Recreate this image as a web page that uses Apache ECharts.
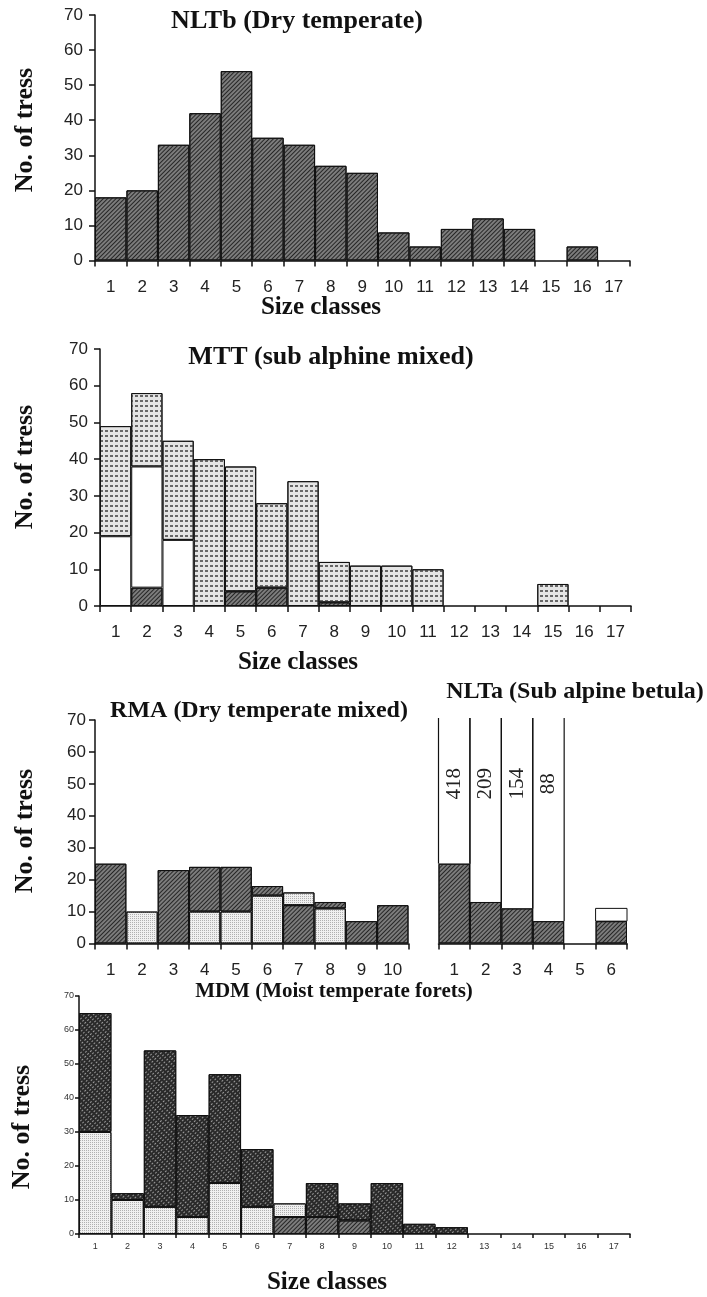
<!DOCTYPE html>
<html><head><meta charset="utf-8">
<script src="https://cdn.jsdelivr.net/npm/echarts@6/dist/echarts.min.js"></script>
<style>html,body{margin:0;padding:0;background:#fff}#c{width:707px;height:1297px}</style>
</head><body><div id="c"></div>
<script>
// ---------- data ----------
const classes17 = ['1','2','3','4','5','6','7','8','9','10','11','12','13','14','15','16','17'];
const classes10 = ['1','2','3','4','5','6','7','8','9','10'];
const classes6  = ['1','2','3','4','5','6'];
const yMin = 0, yMax = 70, yStep = 10;

// NLTb (Dry temperate)
const nltbTrees = [18,20,33,42,54,35,33,27,25,8,4,9,12,9,0,4,0];

// MTT (sub alphine mixed) – stacked segments, bottom to top
const mttHatched = [0,5,0,0,4,5,0,1,0,0,0,0,0,0,0,0,0];
const mttWhite   = [19,33,18,0,0,0,0,0,0,0,0,0,0,0,0,0,0];
const mttDotted  = [30,20,27,40,34,23,34,11,11,11,10,0,0,0,6,0,0];

// RMA (Dry temperate mixed) – stacked segments, bottom to top
const rmaDarkLower = [25,0,23,0,0,0,12,0,7,12];
const rmaLight     = [0,10,0,10,10,15,4,11,0,0];
const rmaDarkUpper = [0,0,0,14,14,3,0,2,0,0];

// NLTa (Sub alpine betula)
const nltaHatched = [25,13,11,7,0,7];
const nltaTotal   = [418,209,154,88,0,11];

// MDM (Moist temperate forets) – stacked segments, bottom to top
const mdmHatched = [0,0,0,0,0,0,5,5,4,0,0,0,0,0,0,0,0];
const mdmLight   = [30,10,8,5,15,8,4,0,0,0,0,0,0,0,0,0,0];
const mdmCross   = [35,2,46,30,32,17,0,10,5,15,3,2,0,0,0,0,0];

const titles = ['NLTb (Dry temperate)','MTT (sub alphine mixed)','RMA (Dry temperate mixed)','NLTa (Sub alpine betula)','MDM (Moist temperate forets)'];
const yName = 'No. of tress';
const xName = 'Size classes';

// ---------- styles ----------
const SERIF = '"Liberation Serif","Times New Roman",serif';
const SANS = '"Liberation Sans",Arial,sans-serif';
const INK = '#111';
const hatch = {
  color: '#7c7c7c', borderColor: INK, borderWidth: 1,
  decal: { symbol: 'rect', symbolSize: 1, dashArrayX: [1, 0], dashArrayY: [1, 2], rotation: -Math.PI / 4, color: '#262626' }
};
const mttDots = {
  color: '#e4e4e4', borderColor: INK, borderWidth: 1,
  decal: { symbol: 'rect', symbolSize: 1, dashArrayX: [[3, 2]], dashArrayY: [1.5, 2.5], color: '#666' }
};
const lightDots = {
  color: '#f0f0f0', borderColor: INK, borderWidth: 1,
  decal: { symbol: 'rect', symbolSize: 1, dashArrayX: [1, 1], dashArrayY: [1, 1], color: '#b0b0b0' }
};
const cross = {
  color: '#2a2a2a', borderColor: INK, borderWidth: 1,
  decal: { symbol: 'rect', symbolSize: 1, dashArrayX: [[2, 2]], dashArrayY: [1, 2], rotation: -Math.PI / 4, color: '#9a9a9a' }
};
const white = { color: '#ffffff', borderColor: INK, borderWidth: 1 };

const nz = arr => arr.map(v => (v === 0 ? '-' : v));

const grids = [
  { left: 95,    top: 15,  width: 534.5, height: 245.5 },
  { left: 100,   top: 349, width: 531,   height: 257 },
  { left: 95,    top: 720, width: 313.5, height: 223.5 },
  { left: 438.5, top: 720, width: 188.5, height: 223.5 },
  { left: 79,    top: 996, width: 551,   height: 238 }
].map(g => Object.assign({ outerBoundsMode: 'none', containLabel: false }, g));

function xAx(idx, data, small) {
  return {
    type: 'category', gridIndex: idx, data: data, boundaryGap: true,
    axisLine: { show: true, lineStyle: { color: INK, width: 1.5 } },
    axisTick: { show: true, length: small ? 4 : 6, lineStyle: { color: INK, width: 1.5 } },
    axisLabel: { fontFamily: SANS, fontSize: small ? 9 : 17, color: small ? '#333' : '#222', margin: small ? 8 : 18, interval: 0 },
    splitLine: { show: false }
  };
}
function yAx(idx, opts) {
  opts = opts || {};
  return {
    type: 'value', gridIndex: idx, min: yMin, max: yMax, interval: yStep,
    axisLine: { show: !opts.hide, lineStyle: { color: INK, width: 1.5 } },
    axisTick: { show: !opts.hide, length: opts.small ? 4 : 6, lineStyle: { color: INK, width: 1.5 } },
    axisLabel: { show: !opts.hide, fontFamily: SANS, fontSize: opts.small ? 9 : 17, color: opts.small ? '#333' : '#222', margin: opts.small ? 5 : (opts.margin || 12) },
    splitLine: { show: false }
  };
}
function bar(idx, data, style, stack) {
  return { type: 'bar', xAxisIndex: idx, yAxisIndex: idx, data: nz(data), stack: stack, barCategoryGap: '0%', itemStyle: style, emphasis: { disabled: true }, animation: false };
}

const LABEL_AT = 50; // value level where the clipped totals are written
const nltaOpen = {
  type: 'custom', xAxisIndex: 3, yAxisIndex: 3, animation: false,
  data: nltaTotal.map((t, i) => [i, nltaHatched[i], t]),
  encode: { x: 0, y: [1, 2] },
  renderItem: function (params, api) {
    const i = api.value(0), lo = api.value(1), hi = api.value(2);
    if (!(hi > lo)) return;
    const top = Math.min(hi, yMax);
    const pLo = api.coord([i, lo]), pTop = api.coord([i, top]);
    const w = api.size([1, 0])[0];
    const x0 = pLo[0] - w / 2, x1 = pLo[0] + w / 2;
    const children = [];
    if (hi <= yMax) {
      children.push({ type: 'rect', shape: { x: x0, y: pTop[1], width: w, height: pLo[1] - pTop[1] }, style: { fill: '#fff', stroke: INK, lineWidth: 1 } });
    } else {
      const yT = pTop[1] - 2;
      children.push({ type: 'line', shape: { x1: x0, y1: pLo[1], x2: x0, y2: yT }, style: { stroke: INK, lineWidth: 1.2 } });
      children.push({ type: 'line', shape: { x1: x1, y1: pLo[1], x2: x1, y2: yT }, style: { stroke: INK, lineWidth: 1.2 } });
      const pl = api.coord([i, LABEL_AT]);
      children.push({ type: 'text', x: pl[0], y: pl[1], rotation: Math.PI / 2,
        style: { text: String(hi), font: '21px ' + SERIF, fill: '#222', align: 'center', verticalAlign: 'middle' } });
    }
    return { type: 'group', children: children };
  }
};

function txt(text, x, y, size, rot, weight) {
  return { type: 'text', x: x, y: y, rotation: rot || 0, silent: true,
    style: { text: text, font: (weight || 'bold') + ' ' + size + 'px ' + SERIF, fill: '#111',
      align: 'center', verticalAlign: 'middle', textAlign: 'center', textVerticalAlign: 'middle' } };
}

const option = {
  animation: false,
  backgroundColor: '#fff',
  grid: grids,
  xAxis: [xAx(0, classes17), xAx(1, classes17), xAx(2, classes10), xAx(3, classes6), xAx(4, classes17, true)],
  yAxis: [yAx(0), yAx(1), yAx(2, { margin: 9 }), yAx(3, { hide: true }), yAx(4, { small: true })],
  series: [
    bar(0, nltbTrees, hatch, 'a'),
    bar(1, mttHatched, hatch, 'b'),
    bar(1, mttWhite, white, 'b'),
    bar(1, mttDotted, mttDots, 'b'),
    bar(2, rmaDarkLower, hatch, 'c'),
    bar(2, rmaLight, lightDots, 'c'),
    bar(2, rmaDarkUpper, hatch, 'c'),
    bar(3, nltaHatched, hatch, 'd'),
    nltaOpen,
    bar(4, mdmHatched, hatch, 'e'),
    bar(4, mdmLight, lightDots, 'e'),
    bar(4, mdmCross, cross, 'e')
  ],
  graphic: [
    txt(titles[0], 297, 21, 26),
    txt(titles[1], 331, 357, 26),
    txt(titles[2], 259, 711, 24),
    txt(titles[3], 575, 692, 24),
    txt(titles[4], 334, 992, 21),
    txt(yName, 25, 130, 26, Math.PI / 2),
    txt(yName, 25, 467, 26, Math.PI / 2),
    txt(yName, 25, 831, 26, Math.PI / 2),
    txt(yName, 22, 1127, 26, Math.PI / 2),
    txt(xName, 321, 308, 25),
    txt(xName, 298, 663, 25),
    txt(xName, 327, 1283, 25)
  ]
};
const chart = echarts.init(document.getElementById('c'), null, { renderer: 'canvas' });
chart.setOption(option);
</script></body></html>
